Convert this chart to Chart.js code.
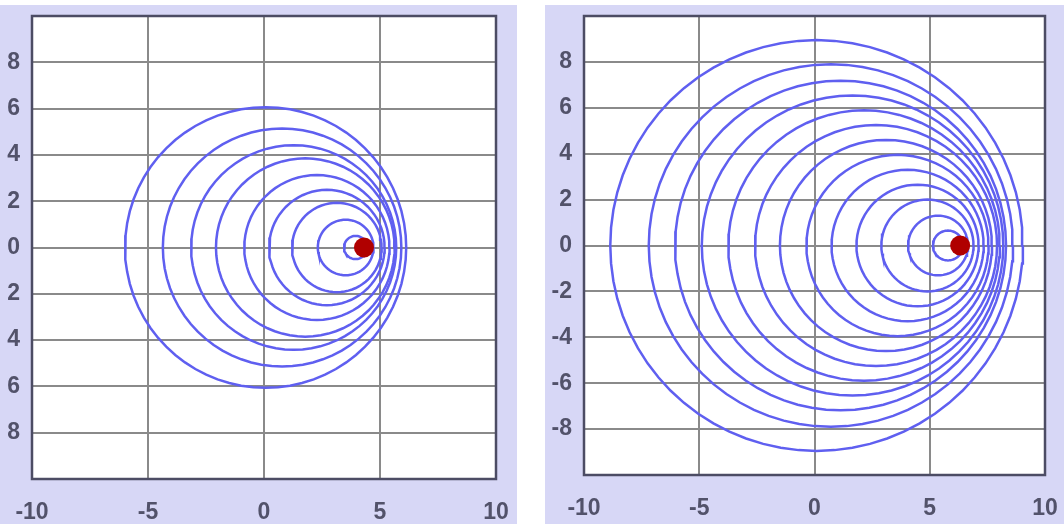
<!DOCTYPE html>
<html>
<head>
<meta charset="utf-8">
<script src="https://cdn.jsdelivr.net/npm/chart.js@4"></script>
<style>
  html, body { margin: 0; padding: 0; background: #ffffff; }
  body { width: 1064px; height: 524px; position: relative; overflow: hidden; }
  .panel { position: absolute; top: 5px; height: 519px; background: #d7d7f6; overflow: hidden; }
  #leftPanel { left: 0; width: 517px; }
  #rightPanel { left: 545px; width: 519px; }
  canvas { position: absolute; top: 0; }
</style>
</head>
<body>
<div class="panel" id="leftPanel"><canvas id="leftCanvas" width="527" height="519" style="left:-10px"></canvas></div>
<div class="panel" id="rightPanel"><canvas id="rightCanvas" width="519" height="519" style="left:0"></canvas></div>
<script>
// tick values
const xTickValues = [-10, -5, 0, 5, 10];
const yTickValues = [-8, -6, -4, -2, 0, 2, 4, 6, 8];

// left frame: wavefront centres (x) and radii, source position
const leftCenters = [0.07, 0.78, 1.28, 1.78, 2.28, 2.71, 3.14, 3.52, 3.95];
const leftRadii = [6.06, 5.14, 4.42, 3.85, 3.13, 2.49, 1.93, 1.2, 0.5];
const leftSource = [4.31, 0];

// right frame
const rightCenters = [0.09, 0.71, 1.13, 1.65, 2.15, 2.67, 3.1, 3.6, 4.04, 4.47, 4.9, 5.36, 5.79];
const rightRadii = [8.95, 7.9, 7.18, 6.54, 5.89, 5.25, 4.6, 3.95, 3.3, 2.65, 2.0, 1.3, 0.65];
const rightSource = [6.32, 0];

const waveColor = '#5f5ff0';
const labelColor = '#52526a';

// outline of one circle as points for a line dataset
function circlePoints(cx, r) {
  let pts = [];
  for (let k = 0; k <= 72; k++) {
    let a = k / 72 * 2 * Math.PI;
    pts.push({ x: cx + r * Math.cos(a), y: r * Math.sin(a) });
  }
  return pts;
}

// white plot area and a box around it
const framePlugin = {
  id: 'frame',
  beforeDraw(chart) {
    const a = chart.chartArea;
    chart.ctx.save();
    chart.ctx.fillStyle = '#ffffff';
    chart.ctx.fillRect(a.left, a.top, a.right - a.left, a.bottom - a.top);
    chart.ctx.restore();
  },
  afterDraw(chart) {
    const a = chart.chartArea;
    const ctx = chart.ctx;
    ctx.save();
    ctx.strokeStyle = '#4c4c64';
    ctx.lineWidth = 2.5;
    ctx.strokeRect(a.left, a.top, a.right - a.left, a.bottom - a.top);
    ctx.restore();
  }
};

function makeChart(canvasId, centers, radii, source, layout) {
  let datasets = centers.map(function (cx, i) {
    return {
      data: circlePoints(cx, radii[i]),
      showLine: true,
      borderColor: waveColor,
      borderWidth: 2.5,
      pointRadius: 0,
      fill: false,
      order: 1
    };
  });
  // the source sits on top of the wavefronts
  datasets.push({
    data: [{ x: source[0], y: source[1] }],
    pointRadius: 10,
    pointBackgroundColor: '#b00000',
    pointBorderWidth: 0,
    order: 0
  });

  const tickFont = { family: 'Liberation Sans, Arial, sans-serif', size: 23, weight: 'bold' };

  return new Chart(document.getElementById(canvasId), {
    type: 'scatter',
    data: { datasets: datasets },
    plugins: [framePlugin],
    options: {
      responsive: false,
      animation: false,
      layout: { padding: { left: 0, right: layout.right, top: layout.top, bottom: 0 } },
      plugins: { legend: { display: false }, tooltip: { enabled: false } },
      elements: { line: { tension: 0 } },
      scales: {
        x: {
          min: -10, max: 10,
          afterBuildTicks: s => { s.ticks = xTickValues.map(v => ({ value: v })); },
          afterFit: s => { s.height = layout.xHeight; s.paddingLeft = 0; s.paddingRight = 0; },
          grid: { color: '#8a8a8a', lineWidth: 2, drawTicks: false },
          border: { display: false },
          ticks: { padding: 20, color: labelColor, font: tickFont, maxRotation: 0, autoSkip: false }
        },
        y: {
          min: -10, max: 10,
          afterBuildTicks: s => { s.ticks = yTickValues.map(v => ({ value: v })); },
          afterFit: s => { s.width = layout.yWidth; s.paddingTop = 0; s.paddingBottom = 0; },
          grid: { color: '#8a8a8a', lineWidth: 2, drawTicks: false },
          border: { display: false },
          ticks: {
            padding: 12, color: labelColor, font: tickFont, autoSkip: false,
            // the left frame shows the labels without their minus sign
            callback: v => layout.unsigned ? String(Math.abs(v)) : String(v)
          }
        }
      }
    }
  });
}

makeChart('leftCanvas', leftCenters, leftRadii, leftSource, { right: 21, top: 11, xHeight: 45, yWidth: 42, unsigned: true });
makeChart('rightCanvas', rightCenters, rightRadii, rightSource, { right: 19, top: 11, xHeight: 49, yWidth: 39, unsigned: false });
</script>
</body>
</html>
